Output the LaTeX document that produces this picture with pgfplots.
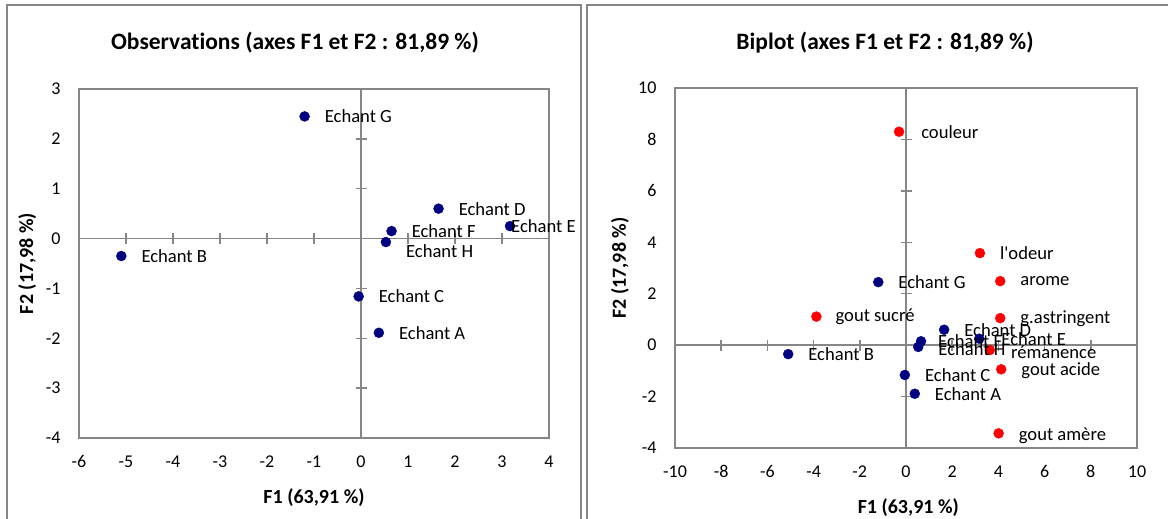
\documentclass[border=0pt]{standalone}
\usepackage{fontspec}
\setmainfont{Carlito}[Ligatures={TeX,NoCommon}]
\usepackage{pgfplots}
\usepackage{pgfplotstable}
\pgfplotsset{compat=1.18}
\definecolor{axgray}{RGB}{134,134,134}
\definecolor{navyb}{RGB}{0,0,128}
\definecolor{redp}{RGB}{255,0,0}

\pgfplotstableread{
x y label dx dy
0.38 -1.89 {Echant A} 20 0
-5.10 -0.35 {Echant B} 20 0
-0.05 -1.16 {Echant C} 20 0
1.65 0.60 {Echant D} 20 0
3.17 0.25 {Echant E} 1 0
0.65 0.15 {Echant F} 20 0
-1.20 2.45 {Echant G} 20 0
0.53 -0.07 {Echant H} 20 -9
}\obsleft

\pgfplotstableread{
x y label dx dy
0.38 -1.89 {Echant A} 20 0
-5.10 -0.35 {Echant B} 20 0
-0.05 -1.16 {Echant C} 20 0
1.65 0.60 {Echant D} 20 0
3.17 0.25 {Echant E} 22 0
0.65 0.15 {Echant F} 17 0
-1.20 2.45 {Echant G} 20 0
0.53 -0.07 {Echant H} 20 -2
}\obsright

\pgfplotstableread{
x y label dx dy
-0.30 8.30 {couleur} 22 0
3.20 3.58 {l\textquotesingle odeur} 20 0
4.08 2.49 {arome} 20 0
4.08 1.05 {g.astringent} 20 -1
-3.88 1.11 {gout sucré} 19 0
3.63 -0.19 {rémanence} 21 -2
4.12 -0.94 {gout acide} 20 -1
4.01 -3.43 {gout amère} 20 -2
}\vars

\pgfplotsset{
  boxax/.style={
    scale only axis, anchor=south west,
    axis line style={draw=axgray, line width=1.5pt},
    major tick length=0pt,
    tick style={draw=none},
    /pgf/number format/assume math mode=true,
    tick label style={font=\fontsize{18}{21}\selectfont, text=black},
    label style={font=\bfseries\fontsize{20}{24}\selectfont},
    yticklabel style={xshift=-15pt},
    xticklabel style={yshift=-14pt},
  },
  midax/.style={
    scale only axis, anchor=south west,
    axis lines=middle,
    axis line style={draw=axgray, line width=1.5pt, -},
    xticklabels={}, yticklabels={},
    tick align=center, major tick length=11pt,
    tick style={draw=axgray, line width=1.5pt},
    clip=false,
  },
  lab/.style={
    only marks, mark=*, mark size=5pt,
    point meta=explicit symbolic,
    visualization depends on={\thisrow{dx}\as\dx},
    visualization depends on={\thisrow{dy}\as\dy},
    nodes near coords,
    nodes near coords style={anchor=west, inner sep=0pt, text=black,
      font=\fontsize{18.6}{21}\selectfont, xshift=\dx pt, yshift=\dy pt},
  },
}

\begin{document}
\begin{tikzpicture}
\useasboundingbox (0,0) rectangle (1168pt,519pt);
\fill[white] (0,0) rectangle (1168pt,519pt);
% outer frames
\draw[axgray, line width=1.6pt] (7pt,-10pt) -- (7pt,514pt) -- (581pt,514pt) -- (581pt,-10pt);
\draw[axgray, line width=1.6pt] (587pt,-10pt) -- (587pt,514pt) -- (1180pt,514pt);

% ---------- Left: observations ----------
\begin{axis}[boxax, at={(79pt,81pt)}, width=470pt, height=349pt,
  xmin=-6, xmax=4, ymin=-4, ymax=3,
  xtick={-6,...,4}, ytick={-4,...,3},
  xlabel={F1 (63,91 \%)}, ylabel={F2 (17,98 \%)},
  xlabel style={at={(axis description cs:0.5,-0.172)}, anchor=center},
  ylabel style={at={(axis description cs:-0.11,0.5)}, anchor=center},
]
\end{axis}
\begin{axis}[midax, at={(79pt,81pt)}, width=470pt, height=349pt,
  xmin=-6, xmax=4, ymin=-4, ymax=3,
  xtick={-6,...,4}, ytick={-4,...,3}]
\addplot[lab, mark options={draw=navyb, fill=navyb}] table[meta=label] {\obsleft};
\end{axis}
\node[font=\bfseries\fontsize{23.5}{27}\selectfont] at (295pt,476pt) {Observations (axes F1 et F2 : 81,89 \%)};

% ---------- Right: biplot ----------
\begin{axis}[boxax, at={(675pt,71pt)}, width=462pt, height=360pt,
  xmin=-10, xmax=10, ymin=-4, ymax=10,
  xtick={-10,-8,...,10}, ytick={-4,-2,...,10},
  xlabel={F1 (63,91 \%)}, ylabel={F2 (17,98 \%)},
  xlabel style={at={(axis description cs:0.505,-0.165)}, anchor=center},
  ylabel style={at={(axis description cs:-0.119,0.5)}, anchor=center},
]
\end{axis}
\begin{axis}[midax, at={(675pt,71pt)}, width=462pt, height=360pt,
  xmin=-10, xmax=10, ymin=-4, ymax=10,
  xtick={-10,-8,...,10}, ytick={-4,-2,...,10}]
\addplot[lab, mark options={draw=redp, fill=redp}] table[meta=label] {\vars};
\addplot[lab, mark options={draw=navyb, fill=navyb}] table[meta=label] {\obsright};
\end{axis}
\node[font=\bfseries\fontsize{23.5}{27}\selectfont] at (885pt,476pt) {Biplot (axes F1 et F2 : 81,89 \%)};
\end{tikzpicture}
\end{document}
